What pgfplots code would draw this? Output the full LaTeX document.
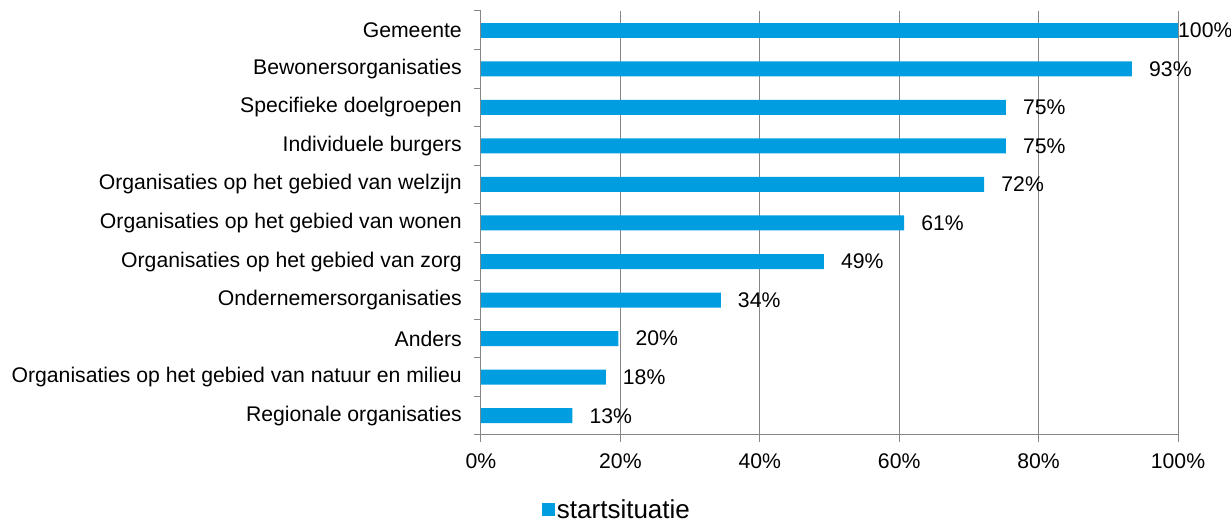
\documentclass[border=0pt]{standalone}
\usepackage{pgfplots}
\pgfplotsset{compat=1.18}
\usepackage{fontspec}
\setmainfont{Liberation Sans}
\definecolor{barblue}{RGB}{0,158,224}
\definecolor{gridgray}{RGB}{134,134,134}
\begin{document}
\begin{tikzpicture}
\path[use as bounding box] (-481pt,-91pt) rectangle (750pt,435pt);
\begin{axis}[
  at={(0pt,0pt)}, anchor=south west,
  scale only axis, width=697pt, height=424pt,
  xbar, bar width=15pt, bar shift=0pt,
  xmin=0, xmax=100, ymin=-0.5, ymax=10.5,
  axis x line*=bottom, axis y line*=left,
  axis line style={gridgray, line width=1pt},
  xtick={0,20,...,100},
  /pgf/number format/assume math mode=true,
  xticklabel={\pgfmathprintnumber{\tick}\%},
  xmajorgrids, grid style={gridgray, line width=1pt},
  tick align=outside, major tick length=7pt,
  tick style={gridgray, line width=1pt},
  ytick={-0.5,0.5,...,10.5}, yticklabels={},
  extra y ticks={0,1,2,3,4,5,6,7,8,9,10},
  extra y tick labels={Regionale organisaties,Organisaties op het gebied van natuur en milieu,Anders,Ondernemersorganisaties,Organisaties op het gebied van zorg,Organisaties op het gebied van wonen,Organisaties op het gebied van welzijn,Individuele burgers,Specifieke doelgroepen,Bewonersorganisaties,Gemeente},
  extra y tick style={major tick length=0pt, grid=none},
  ticklabel style={font=\fontsize{21.2}{25}\selectfont, text=black},
  yticklabel style={inner sep=0pt, xshift=-19pt},
  xticklabel style={inner sep=0pt, yshift=-11pt},
  point meta=explicit symbolic,
  nodes near coords,
  nodes near coords style={anchor=west, inner sep=0pt, xshift=17pt, font=\fontsize{21.2}{25}\selectfont, text=black},
  legend style={at={(0.195,-0.176)}, anchor=center, draw=none, fill=none, font=\fontsize{26}{30}\selectfont, inner sep=0pt},
  legend image code/.code={\fill[barblue] (-3pt,-6.5pt) rectangle (10pt,6.5pt);},
]
\addplot[draw=none, fill=barblue] coordinates {
  (13.1,0) [13\%]
  (17.9,1) [18\%]
  (19.7,2) [20\%]
  (34.4,3) [34\%]
  (49.2,4) [49\%]
  (60.7,5) [61\%]
  (72.2,6) [72\%]
  (75.3,7) [75\%]
  (75.3,8) [75\%]
  (93.4,9) [93\%]
};
\addlegendentry{startsituatie}
\addplot[draw=none, fill=barblue, forget plot, nodes near coords style={xshift=-17pt}] coordinates {
  (100,10) [100\%]
};
\end{axis}
\end{tikzpicture}
\end{document}
